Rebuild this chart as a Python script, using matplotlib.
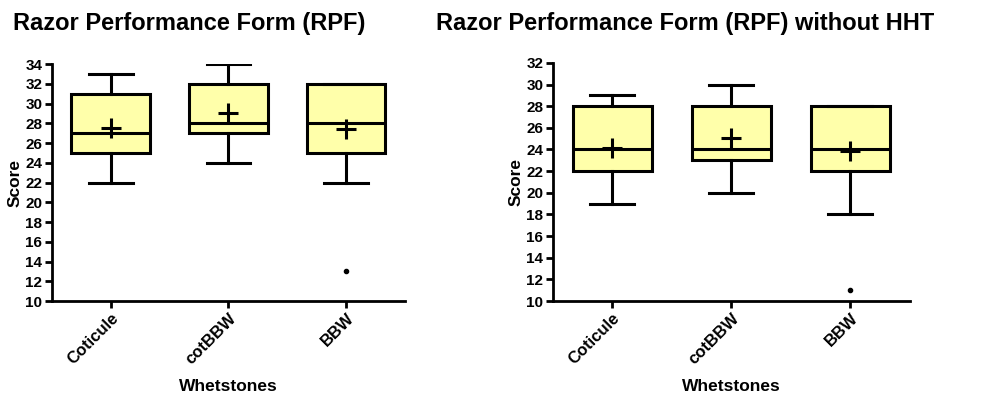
import matplotlib
matplotlib.use("Agg")
import matplotlib.pyplot as plt

plt.rcParams['font.family'] = ['Liberation Sans', 'DejaVu Sans']

categories = ["Coticule", "cotBBW", "BBW"]

# Left panel: RPF
rpf_whislo = [22, 24, 22]
rpf_q1 = [25, 27, 25]
rpf_med = [27, 28, 28]
rpf_q3 = [31, 32, 32]
rpf_whishi = [33, 34, 32]
rpf_mean = [27.5, 29.0, 27.4]
rpf_fliers = [[], [], [13]]

# Right panel: RPF without HHT
hht_whislo = [19, 20, 18]
hht_q1 = [22, 23, 22]
hht_med = [24, 24, 24]
hht_q3 = [28, 28, 28]
hht_whishi = [29, 30, 28]
hht_mean = [24.1, 25.1, 23.9]
hht_fliers = [[], [], [11]]

titles = ["Razor Performance Form (RPF)", "Razor Performance Form (RPF) without HHT"]
ylims = [(10, 34), (10, 32)]


def make_stats(wl, q1, med, q3, wh, mean, fl):
    out = []
    for i in range(len(categories)):
        out.append(dict(label=categories[i], whislo=wl[i], q1=q1[i], med=med[i],
                        q3=q3[i], whishi=wh[i], mean=mean[i], fliers=fl[i]))
    return out


fig = plt.figure(figsize=(9.9, 3.98), dpi=100)
ax1 = fig.add_axes([0.0525, 0.2437, 0.3565, 0.5953])
ax2 = fig.add_axes([0.5586, 0.2437, 0.3604, 0.5983])

stats_all = [
    make_stats(rpf_whislo, rpf_q1, rpf_med, rpf_q3, rpf_whishi, rpf_mean, rpf_fliers),
    make_stats(hht_whislo, hht_q1, hht_med, hht_q3, hht_whishi, hht_mean, hht_fliers),
]

lw = 2.2
for ax, stats, title, yl in zip([ax1, ax2], stats_all, titles, ylims):
    ax.bxp(stats, positions=range(len(categories)), widths=0.67, patch_artist=True,
           showmeans=True, showfliers=True,
           boxprops=dict(facecolor="#FFFFAA", edgecolor="black", linewidth=lw),
           medianprops=dict(color="black", linewidth=lw),
           whiskerprops=dict(color="black", linewidth=lw),
           capprops=dict(color="black", linewidth=lw),
           capwidths=0.37,
           meanprops=dict(marker="+", markersize=14, markeredgewidth=2.2,
                          markeredgecolor="black", markerfacecolor="black"),
           flierprops=dict(marker="o", markersize=3, markerfacecolor="black",
                           markeredgecolor="black"))
    ax.set_xlim(-0.5, 2.5)
    ax.set_ylim(*yl)
    ax.set_yticks(range(yl[0], yl[1] + 1, 2))
    ax.set_xticks(range(len(categories)))
    ax.set_xticklabels(categories, rotation=45, ha="right", rotation_mode="anchor",
                       fontsize=12, fontweight="bold")
    for lab in ax.get_yticklabels():
        lab.set_fontsize(11)
        lab.set_fontweight("bold")
    ax.spines["top"].set_visible(False)
    ax.spines["right"].set_visible(False)
    ax.spines["left"].set_linewidth(2)
    ax.spines["bottom"].set_linewidth(2)
    ax.tick_params(axis="both", width=2, length=5, pad=2)
    ax.set_ylabel("Score", fontsize=12.5, fontweight="bold", labelpad=2)
    ax.set_xlabel("Whetstones", fontsize=12.5, fontweight="bold", labelpad=8)

fig.text(0.191, 0.942, titles[0], ha="center", va="center", fontsize=17, fontweight="bold")
fig.text(0.692, 0.942, titles[1], ha="center", va="center", fontsize=17, fontweight="bold")

fig.savefig("out.png", dpi=100)
